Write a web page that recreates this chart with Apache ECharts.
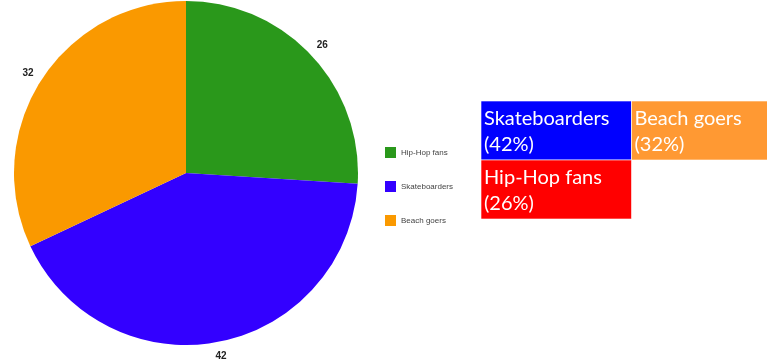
<!DOCTYPE html>
<html>
<head>
<meta charset="utf-8">
<script src="https://cdn.jsdelivr.net/npm/echarts@6/dist/echarts.min.js"></script>
<style>
  html, body { margin: 0; padding: 0; background: #fff; }
  .pie { width: 767px; height: 360px; }
</style>
</head>
<body>
<div class="pie"></div>
<script>
// ======================= data =======================
let groups = ['Hip-Hop fans', 'Skateboarders', 'Beach goers']
let fans = [26, 42, 32]
let pieColors = ['#2a981b', '#3300ff', '#fa9900']
let boxColors = ['#ff0000', '#0000ff', '#ff9933']

let total = fans.reduce((a, b) => a + b, 0)
let pieData = groups.map((name, i) => ({ value: fans[i], name: name, itemStyle: { color: pieColors[i] } }))

// boxes: biggest first, two per row
let order = groups.map((n, i) => i).sort((a, b) => fans[b] - fans[a])
let boxData = order.map((idx, k) => ({
  value: [k % 2, Math.floor(k / 2)],
  name: groups[idx],
  pct: Math.round(fans[idx] / total * 100),
  color: boxColors[idx]
}))

// ======================= chart =======================
let myChart = echarts.init(document.querySelector('.pie'))
let option = {
  animation: false,
  legend: {
    orient: 'vertical',
    left: 380,
    top: 142,
    itemWidth: 11,
    itemHeight: 11,
    itemGap: 23,
    icon: 'rect',
    data: groups,
    textStyle: { fontSize: 8, color: '#444', fontFamily: 'Liberation Sans' }
  },
  // second column runs off the right edge
  grid: { left: 481, top: 101, right: 0, height: 118 },
  xAxis: { type: 'value', min: 0, max: 1.9, show: false },
  yAxis: { type: 'value', min: 0, max: 2, inverse: true, show: false },
  series: [
    {
      name: 'Fans',
      type: 'pie',
      center: [186, 173],
      radius: 172,
      startAngle: 90,
      label: { show: false },
      labelLine: { show: false },
      data: pieData
    },
    {
      // value labels just outside the pie
      name: 'labels',
      type: 'pie',
      center: [186, 173],
      radius: [178, 190],
      startAngle: 90,
      silent: true,
      legendHoverLink: false,
      itemStyle: { color: 'transparent' },
      label: {
        show: true,
        position: 'inside',
        rotate: 0,
        formatter: '{c}',
        fontSize: 10,
        fontWeight: 'bold',
        color: '#222',
        fontFamily: 'Liberation Sans'
      },
      labelLine: { show: false },
      data: groups.map((name, i) => ({ value: fans[i], name: name }))
    },
    {
      type: 'custom',
      silent: true,
      clip: false,
      data: boxData,
      renderItem: function (params, api) {
        let d = boxData[params.dataIndex]
        let p = api.coord([api.value(0), api.value(1)])
        let s = api.size([1, 1])
        return {
          type: 'group',
          children: [
            {
              type: 'rect',
              shape: { x: p[0], y: p[1], width: s[0], height: s[1] },
              style: { fill: d.color, stroke: 'rgba(255,255,255,0.6)', lineWidth: 1 }
            },
            {
              type: 'text',
              x: p[0] + 3,
              y: p[1] + 5,
              style: {
                text: d.name + '\n(' + d.pct + '%)',
                fill: '#fff',
                fontSize: 20,
                lineHeight: 26,
                fontFamily: 'Lato'
              }
            }
          ]
        }
      }
    }
  ]
}
myChart.setOption(option)
</script>
</body>
</html>
